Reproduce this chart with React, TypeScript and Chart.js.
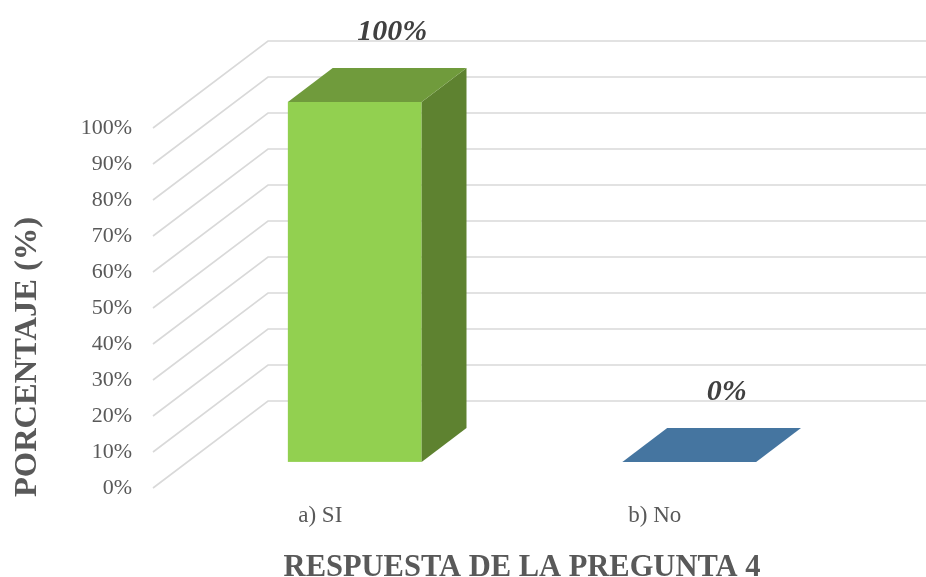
import React, { useEffect, useRef } from 'react';
import { Chart, registerables } from 'chart.js';

Chart.register(...registerables);

// ---- data ----
const categories: string[] = ['a) SI', 'b) No'];
const percentages: number[] = [100, 0];
const dataLabels: string[] = ['100%', '0%'];
const yMin = 0;
const yMax = 100;
const yStep = 10;
const yTitle = 'PORCENTAJE (%)';
const xTitle = 'RESPUESTA DE LA PREGUNTA 4';

// ---- styles ----
const frontColors = ['#92D050', '#4575A0'];
const topColors = ['#709B3C', '#4575A0'];
const sideColors = ['#5E8230', '#3A6389'];
const gridColor = '#D9D9D9';
const textColor = '#595959';
const labelColor = '#404040';
const FONT = '"Liberation Serif", "Times New Roman", serif';

// oblique depth of the "room"
const DX = 115;
const DY = 87;
const BAR_FRONT = 0.3;
const BAR_BACK = 0.69;

const threeD = {
  id: 'threeD',
  beforeDatasetsDraw(chart: any) {
    const { ctx, chartArea, scales, width } = chart;
    const y = scales.y;
    ctx.save();
    ctx.strokeStyle = gridColor;
    ctx.lineWidth = 1.6;
    y.ticks.forEach((t: any) => {
      const py = y.getPixelForValue(t.value);
      ctx.beginPath();
      ctx.moveTo(chartArea.left, py);
      ctx.lineTo(chartArea.left + DX, py - DY);
      ctx.lineTo(width, py - DY);
      ctx.stroke();
    });
    ctx.restore();
  },
  afterDatasetsDraw(chart: any) {
    const { ctx } = chart;
    const meta = chart.getDatasetMeta(0);
    ctx.save();
    meta.data.forEach((el: any, i: number) => {
      const { x, y, base, width: w } = el.getProps(['x', 'y', 'base', 'width'], true);
      const fx = DX * BAR_FRONT, fy = DY * BAR_FRONT;
      const bx = DX * BAR_BACK, by = DY * BAR_BACK;
      const fl = x - w / 2 + fx, fr = x + w / 2 + fx;
      const ft = y - fy, fb = base - fy;
      const bl = x - w / 2 + bx, br = x + w / 2 + bx;
      const bt = y - by, bb = base - by;
      if (Math.abs(base - y) > 0.5) {
        // front
        ctx.fillStyle = frontColors[i];
        ctx.fillRect(fl, ft, fr - fl, fb - ft);
        // side
        ctx.fillStyle = sideColors[i];
        ctx.beginPath();
        ctx.moveTo(fr, ft);
        ctx.lineTo(br, bt);
        ctx.lineTo(br, bb);
        ctx.lineTo(fr, fb);
        ctx.closePath();
        ctx.fill();
      }
      // top
      ctx.fillStyle = topColors[i];
      ctx.beginPath();
      ctx.moveTo(fl, ft);
      ctx.lineTo(fr, ft);
      ctx.lineTo(br, bt);
      ctx.lineTo(bl, bt);
      ctx.closePath();
      ctx.fill();

      // data label
      ctx.fillStyle = labelColor;
      ctx.font = 'italic bold 30px ' + FONT;
      ctx.textAlign = 'center';
      ctx.textBaseline = 'middle';
      ctx.fillText(dataLabels[i], x + 72, y - 96);
    });
    ctx.restore();
  },
  afterDraw(chart: any) {
    const { ctx } = chart;
    ctx.save();
    ctx.fillStyle = textColor;
    ctx.textBaseline = 'alphabetic';
    // y title
    ctx.save();
    ctx.font = 'bold 32.5px ' + FONT;
    ctx.translate(36, 497);
    ctx.rotate(-Math.PI / 2);
    ctx.textAlign = 'left';
    ctx.fillText(yTitle, 0, 0);
    ctx.restore();
    // x title
    ctx.font = 'bold 30.5px ' + FONT;
    ctx.textAlign = 'center';
    ctx.fillText(xTitle, 522, 576);
    ctx.restore();
  },
};

export default function App() {
  const ref = useRef<HTMLCanvasElement | null>(null);
  useEffect(() => {
    if (!ref.current) return;
    const chart = new Chart(ref.current, {
      type: 'bar',
      data: {
        labels: categories,
        datasets: [
          {
            data: percentages,
            backgroundColor: 'rgba(0,0,0,0)',
            borderWidth: 0,
            barPercentage: 0.4,
            categoryPercentage: 1.0,
          },
        ],
      },
      options: {
        animation: false,
        responsive: true,
        maintainAspectRatio: false,
        layout: { padding: { top: 128, right: 104, left: 0, bottom: 0 } },
        plugins: {
          legend: { display: false },
          tooltip: { enabled: false },
        },
        scales: {
          x: {
            grid: { display: false, drawTicks: false },
            border: { display: false },
            ticks: {
              color: textColor,
              font: { family: FONT, size: 23 },
              padding: 14,
            },
            afterFit(s: any) {
              s.height = 89;
            },
          },
          y: {
            min: yMin,
            max: yMax,
            grid: { display: false, drawTicks: false },
            border: { display: false },
            ticks: {
              stepSize: yStep,
              color: textColor,
              font: { family: FONT, size: 22 },
              padding: 21,
              callback: (v: any) => v + '%',
            },
            afterFit(s: any) {
              s.width = 153;
            },
          },
        },
      },
      plugins: [threeD],
    });
    return () => chart.destroy();
  }, []);
  return (
    <div style={{ position: 'fixed', left: 0, top: 0, width: 926, height: 577, background: '#fff' }}>
      <canvas ref={ref} />
    </div>
  );
}
